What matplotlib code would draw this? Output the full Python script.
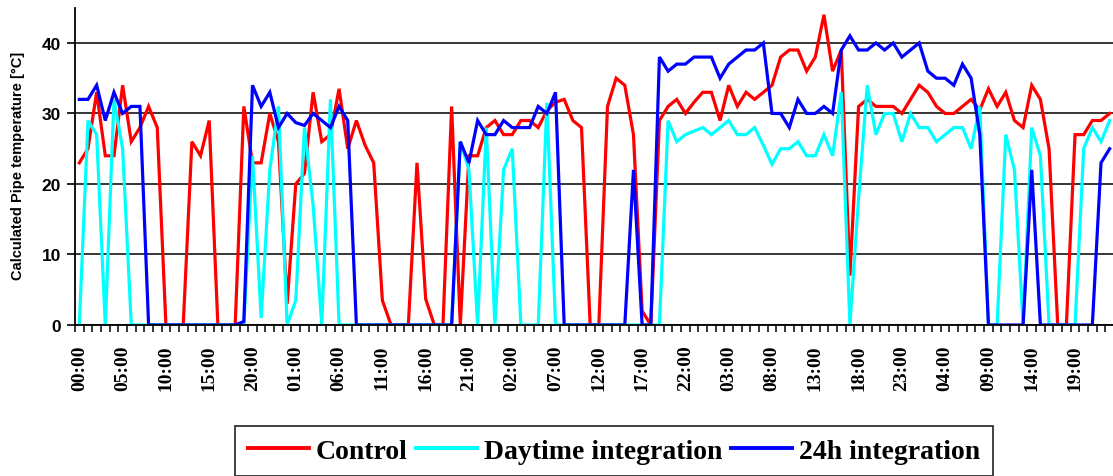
import numpy as np
import matplotlib.pyplot as plt

# hourly pipe temperatures over five days, one value per hour
hour_labels = ["00:00", "05:00", "10:00", "15:00", "20:00", "01:00", "06:00",
               "11:00", "16:00", "21:00", "02:00", "07:00", "12:00", "17:00",
               "22:00", "03:00", "08:00", "13:00", "18:00", "23:00", "04:00",
               "09:00", "14:00", "19:00"]

control = [23, 25, 33, 24, 24, 34, 26, 28, 31, 28,
           0, 0, 0, 26, 24, 29, 0, 0, 0, 31,
           23, 23, 30, 26, 3, 20, 21.5, 33, 26, 27,
           33.5, 25, 29, 25.5, 23, 3.5, 0, 0, 0, 23,
           3.7, 0, 0, 31, 0, 24, 24, 28, 29, 27,
           27, 29, 29, 28, 30.4, 31.6, 32, 29, 28, 0,
           0, 31, 35, 34, 27, 2, 0, 29, 31, 32,
           30, 31.6, 33, 33, 29, 34, 31, 33, 32, 33,
           34, 38, 39, 39, 36, 38, 44, 36, 39, 7,
           31, 32, 31, 31, 31, 30, 32, 34, 33, 31,
           30, 30, 31, 32, 30.5, 33.5, 31, 33, 29, 28,
           34, 32, 25, 0, 0, 27, 27, 29, 29, 30]

daytime = [0, 29, 27, 0, 32, 25, 0, 0, 0, 0,
           0, 0, 0, 0, 0, 0, 0, 0, 0, 0,
           24, 1, 22, 31, 0, 3.5, 28, 17, 0, 32,
           0, 0, 0, 0, 0, 0, 0, 0, 0, 0,
           0, 0, 0, 0, 26, 22, 0, 28, 0, 22,
           25, 0, 0, 0, 31.5, 0, 0, 0, 0, 0,
           0, 0, 0, 0, 0, 0, 0, 0, 29, 26,
           27, 27.5, 28, 27, 28, 29, 27, 27, 28, 25.5,
           22.8, 25, 25, 26, 24, 24, 27, 24, 33, 0,
           18, 34, 27, 30, 30, 26, 30, 28, 28, 26,
           27, 28, 28, 25, 31, 0, 0, 27, 22, 0,
           28, 24, 0, 0, 0, 0, 25, 28, 26, 29]

full_day = [32, 32, 34, 29, 33, 30, 31, 31, 0, 0,
            0, 0, 0, 0, 0, 0, 0, 0, 0, 0.5,
            34, 31, 33, 28, 30, 28.7, 28.3, 30, 29, 28,
            31, 29, 0, 0, 0, 0, 0, 0, 0, 0,
            0, 0, 0, 0, 26, 23, 29, 27, 27, 29,
            28, 28, 28, 31, 30, 33, 0, 0, 0, 0,
            0, 0, 0, 0, 22, 0, 0, 38, 36, 37,
            37, 38, 38, 38, 35, 37, 38, 39, 39, 40,
            30, 30, 28, 32, 30, 30, 31, 30, 39, 41,
            39, 39, 40, 39, 40, 38, 39, 40, 36, 35,
            35, 34, 37, 35, 27, 0, 0, 0, 0, 0,
            22, 0, 0, 0, 0, 0, 0, 0, 23, 25]

W, H = 1113, 477
fig = plt.figure(figsize=(W / 100, H / 100), dpi=100)
ax = fig.add_axes([75 / W, (H - 326) / H, 1039 / W, 317.3 / H])

x = np.arange(len(control))
ax.plot(x, control, color="#ff0000", lw=2.3, label="Control", solid_joinstyle="miter")
ax.plot(x, daytime, color="#00ffff", lw=2.3, label="Daytime integration", solid_joinstyle="miter")
ax.plot(x, full_day, color="#0000ff", lw=2.3, label="24h integration", solid_joinstyle="miter")

ax.set_xlim(-0.5, len(control) - 0.5)
ax.set_ylim(0, 45)

# y axis
ax.set_yticks([0, 10, 20, 30, 40])
ax.yaxis.grid(True, color="black", lw=1.1)
ax.set_axisbelow(True)
for lab in ax.get_yticklabels():
    lab.set_family("Liberation Sans")
    lab.set_fontweight("bold")
    lab.set_fontsize(12.5)
ax.tick_params(axis="y", length=6, width=1.2, pad=4, colors="black")

# x axis: labels every 5 hours, tick marks between categories
ax.set_xticks(np.arange(0, len(control), 5))
ax.set_xticklabels(hour_labels, rotation=90, family="Liberation Serif",
                   fontsize=14, fontweight="bold")
ax.tick_params(axis="x", which="major", length=0, pad=14)
ax.set_xticks(np.arange(-0.5, len(control), 1), minor=True)
ax.tick_params(axis="x", which="minor", length=5, width=1.1)

for side in ["top", "right"]:
    ax.spines[side].set_visible(False)
for side in ["left", "bottom"]:
    ax.spines[side].set_linewidth(1.3)
    ax.spines[side].set_color("black")

fig.text(18 / W, 1 - 166 / H, "Calculated Pipe temperature [°C]", rotation=90,
         ha="center", va="center", fontsize=10.5, fontweight="bold",
         family=["Liberation Sans Narrow", "Liberation Sans"])

leg = fig.legend(loc="center", bbox_to_anchor=(614 / W, 1 - 452 / H), ncol=3,
                 prop={"family": "Liberation Serif", "size": 20, "weight": "bold"},
                 frameon=True, fancybox=False, shadow=False,
                 handlelength=2.2, handletextpad=0.25, columnspacing=0.3,
                 borderpad=0.45, borderaxespad=0)
leg.get_frame().set_edgecolor("black")
leg.get_frame().set_linewidth(1.3)
for line in leg.get_lines():
    line.set_linewidth(2.8)

fig.savefig("out.png", dpi=100)
